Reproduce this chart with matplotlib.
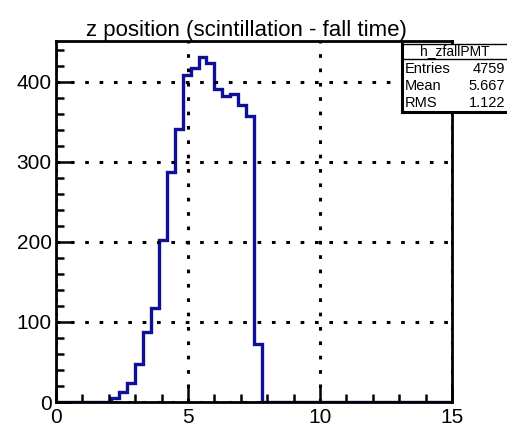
import numpy as np
import matplotlib.pyplot as plt
from matplotlib.ticker import MultipleLocator
from matplotlib.patches import Rectangle

plt.rcParams['font.family'] = ['Liberation Sans', 'DejaVu Sans']

# histogram h_zfallPMT: 50 bins from 0 to 15
edges = np.linspace(0, 15, 51)
counts = np.zeros(50)
# bins 7..25 (2.1 .. 7.8)
filled = [5, 12, 24, 47, 87, 117, 202, 287, 341, 409, 417, 431, 423,
          391, 382, 385, 371, 357, 72]
counts[7:7 + len(filled)] = filled

title = "z position (scintillation - fall time)"
stats_name = "h_zfallPMT"
stats_rows = [("Entries", "4759"), ("Mean", "5.667"), ("RMS", "1.122")]

fig = plt.figure(figsize=(5.07, 4.28), dpi=100)
W, H = 507, 428
ax = fig.add_axes([56 / W, (H - 402) / H, 396 / W, 361 / H])

ax.stairs(counts, edges, color='#0f0f9a', linewidth=2.4)
ax.set_xlim(0, 15)
ax.set_ylim(0, 451)

ax.xaxis.set_major_locator(MultipleLocator(5))
ax.xaxis.set_minor_locator(MultipleLocator(1))
ax.yaxis.set_major_locator(MultipleLocator(100))
ax.yaxis.set_minor_locator(MultipleLocator(20))
ax.tick_params(which='both', direction='in', top=False, right=False,
               width=1.8, labelsize=15)
ax.tick_params(which='major', length=11)
ax.tick_params(which='minor', length=6)
ax.tick_params(axis='x', pad=4)
ax.tick_params(axis='y', pad=3)
ax.grid(True, which='major', color='black', linestyle=(0, (1.2, 3.5)),
        linewidth=2.2)
for s in ax.spines.values():
    s.set_linewidth(2)

fig.text(246 / W, 1 - 36 / H, title, ha='center', va='baseline', fontsize=16)

# stats box (figure pixel coords)
def fx(x):
    return x / W

def fy(y):
    return 1 - y / H

box = Rectangle((fx(402), fy(112)), fx(520) - fx(402), fy(44) - fy(112),
                transform=fig.transFigure, facecolor='white',
                edgecolor='black', linewidth=1.0, zorder=5)
fig.add_artist(box)
fig.add_artist(plt.Line2D([fx(402), fx(402)], [fy(112), fy(44)],
                          transform=fig.transFigure, color='black',
                          linewidth=2.2, zorder=6))
fig.add_artist(plt.Line2D([fx(402), fx(520)], [fy(112), fy(112)],
                          transform=fig.transFigure, color='black',
                          linewidth=2.2, zorder=6))
fig.add_artist(plt.Line2D([fx(402), fx(520)], [fy(59), fy(59)],
                          transform=fig.transFigure, color='black',
                          linewidth=1.0, zorder=6))
fig.text(fx(455), fy(51.5), stats_name, ha='center', va='center',
         fontsize=10, zorder=7)
for i, (k, v) in enumerate(stats_rows):
    y = fy(69 + i * 17)
    fig.text(fx(405), y, k, ha='left', va='center', fontsize=10.5, zorder=7)
    fig.text(fx(505), y, v, ha='right', va='center', fontsize=10.5, zorder=7)

fig.savefig('out.png', dpi=100)
